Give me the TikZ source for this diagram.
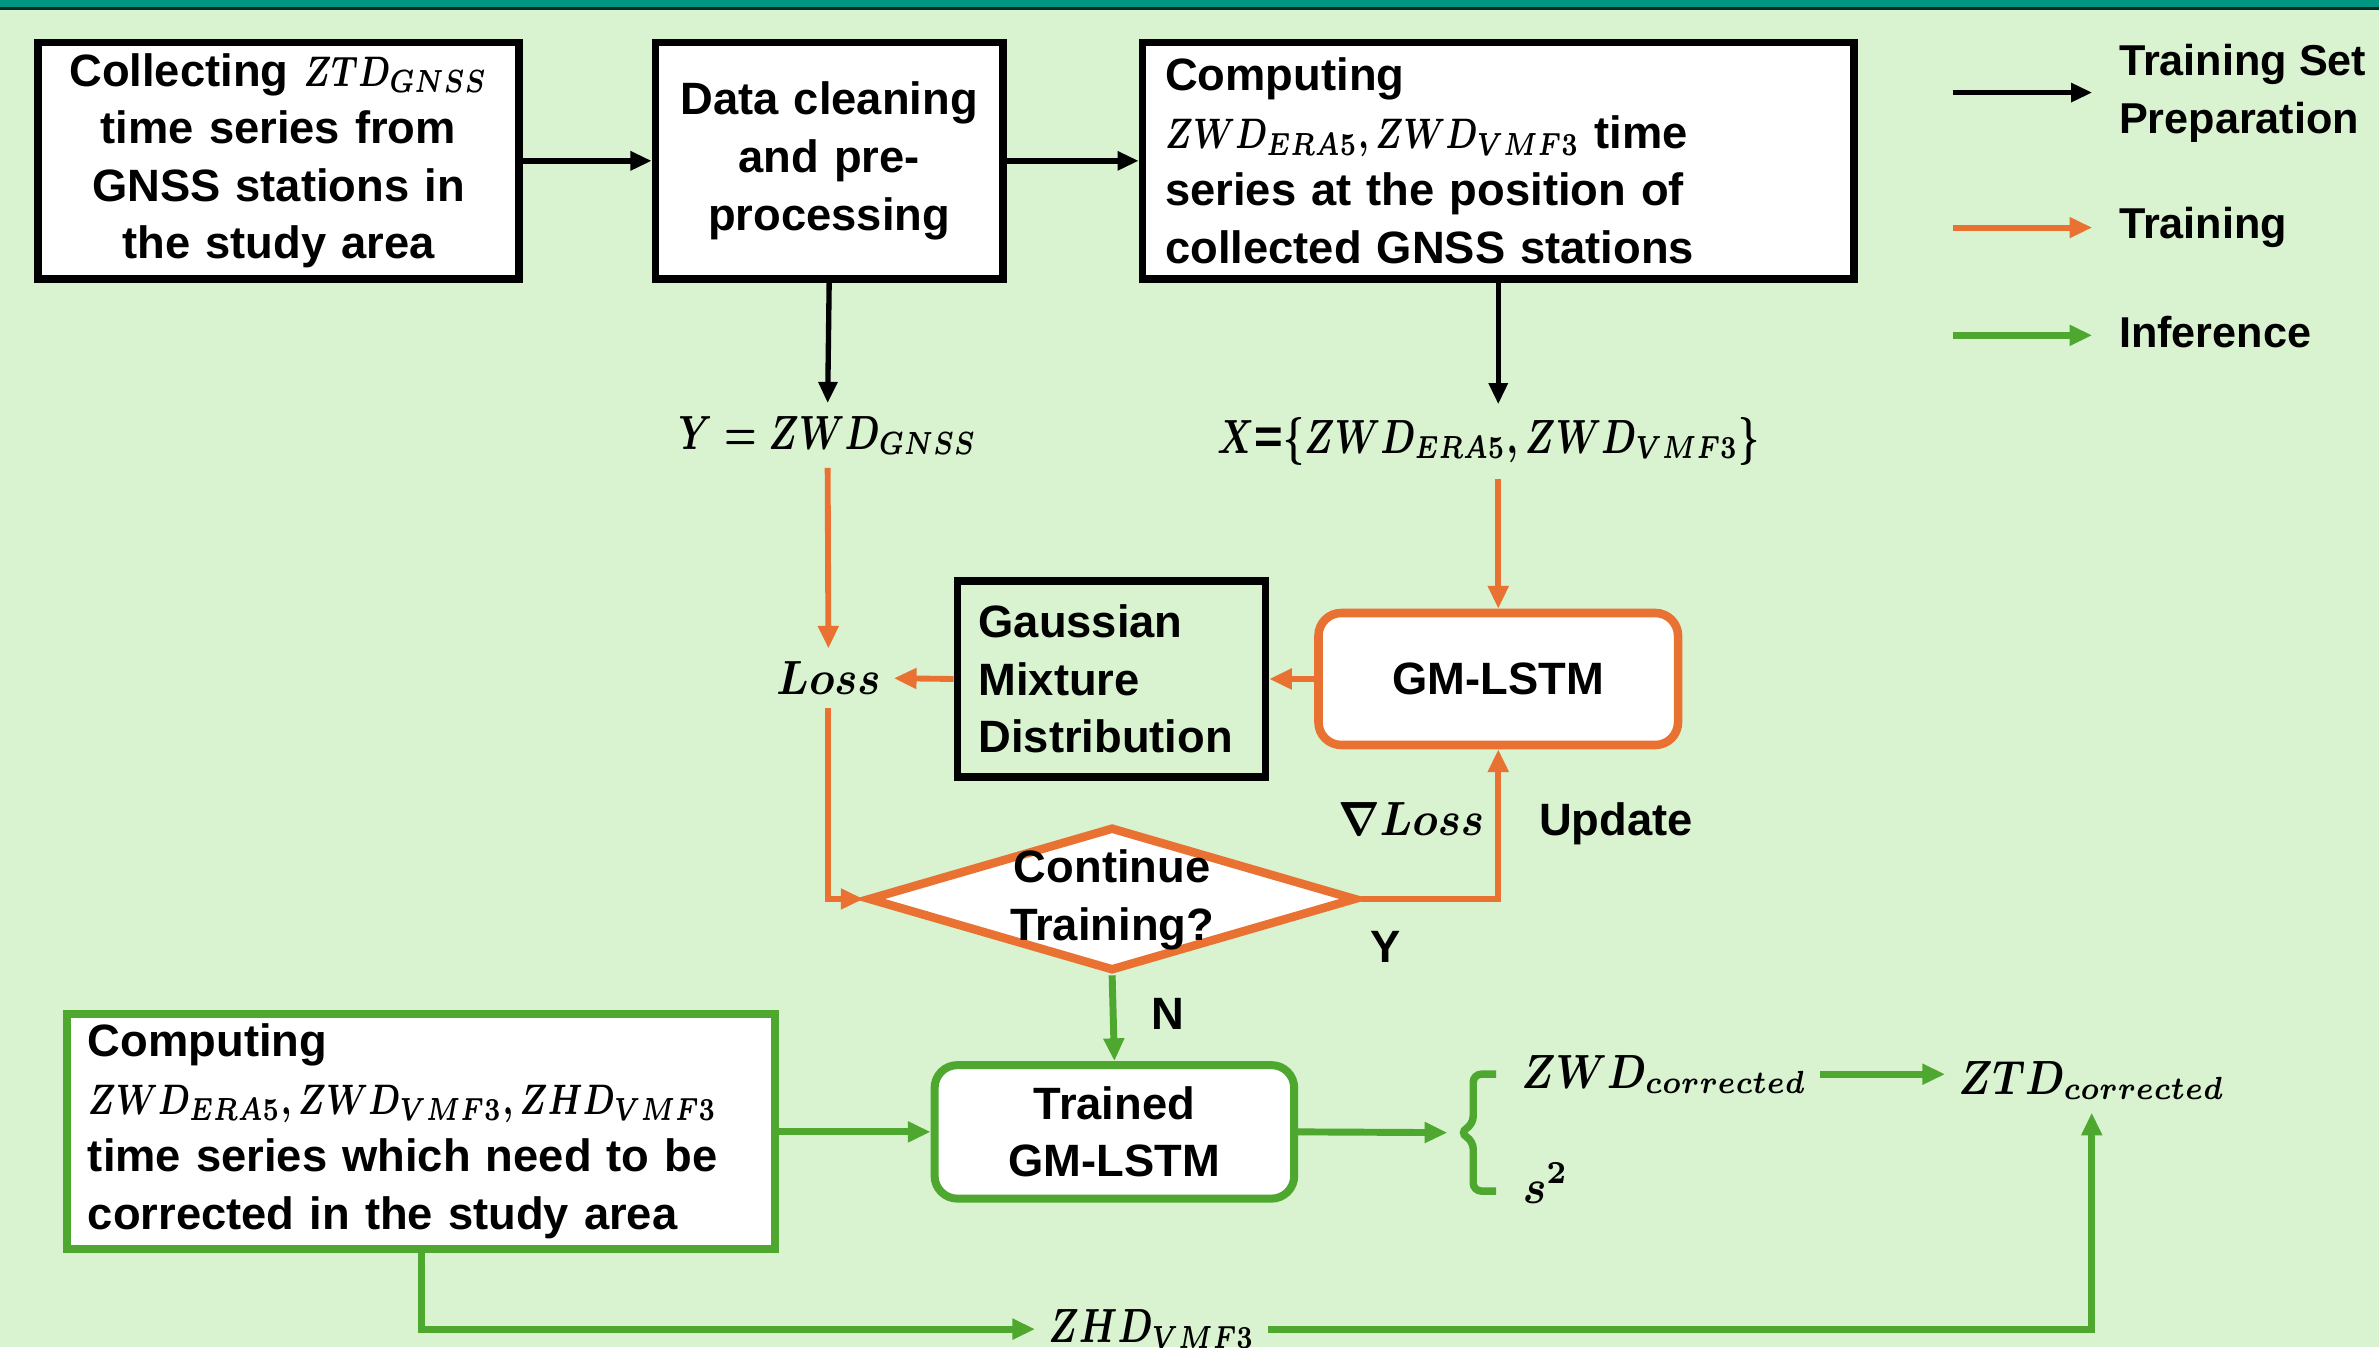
\documentclass[tikz,border=0pt]{standalone}
\usepackage{amsmath}
\usepackage{graphicx}
\usepackage{fontspec}
\setmainfont{Liberation Sans}
\usetikzlibrary{arrows.meta}
\usetikzlibrary{shapes.geometric}
\definecolor{bggreen}{RGB}{217,242,208}
\definecolor{topteal}{RGB}{0,150,130}
\definecolor{trainorange}{RGB}{233,113,50}
\definecolor{infergreen}{RGB}{78,167,46}
\newcommand{\boxfont}{\fontsize{8.5}{10.8}\selectfont\bfseries}
\newcommand{\labfont}{\fontsize{9.2}{11}\selectfont\bfseries}
\newcommand{\legfont}{\fontsize{8.1}{10.8}\selectfont\bfseries}
% narrow math for the delay quantities
\newcommand{\nmath}[2][0.74]{\scalebox{#1}[1]{$#2$}}
\tikzstyle{prepbox}=[draw=black, line width=1.4pt, fill=white, inner ysep=0pt, font=\boxfont]
\tikzstyle{trainbox}=[draw=trainorange, line width=1.6pt, fill=white, rounded corners=0.15cm, font=\boxfont]
\tikzstyle{inferbox}=[draw=infergreen, line width=1.5pt, fill=white, inner ysep=0pt, font=\boxfont]
\tikzstyle{mathlab}=[inner sep=0.08cm, font=\labfont]
\tikzstyle{prepline}=[draw=black, line width=1pt, -{Triangle[length=0.14cm, width=0.12cm]}]
\tikzstyle{trainline}=[draw=trainorange, line width=1.1pt, -{Triangle[length=0.15cm, width=0.13cm]}]
\tikzstyle{inferline}=[draw=infergreen, line width=1.3pt, -{Triangle[length=0.15cm, width=0.13cm]}]
\begin{document}
\boldmath
\begin{tikzpicture}
    \useasboundingbox (0,0) rectangle (15.68,-8.88);
    \fill[bggreen] (0,0) rectangle (15.68,-8.88);
    \fill[topteal] (0,0) rectangle (15.68,-0.05);
    \draw[black!70!topteal, line width=0.6pt] (0,-0.055) -- (15.68,-0.055);

    % training set preparation
    \node[prepbox, text width=2.97cm, inner xsep=0.1cm, minimum height=1.56cm, align=center] (gnss) at (1.835,-1.06)
        {Collecting \nmath{ZTD_{GNSS}}\\time series from\\GNSS stations in\\the study area};
    \node[prepbox, text width=2.09cm, inner xsep=0.1cm, minimum height=1.56cm, align=center] (clean) at (5.465,-1.06)
        {Data cleaning\\and pre-\\processing};
    \node[prepbox, text width=4.39cm, inner xsep=0.15cm, minimum height=1.56cm, align=left] (era) at (9.875,-1.06)
        {Computing\\\nmath{ZWD_{ERA5}, ZWD_{VMF3}} time\\series at the position of\\collected GNSS stations};
    \node[mathlab] (ylab) at (5.455,-2.87) {\nmath{Y = ZWD_{GNSS}}};
    \node[mathlab] (xlab) at (9.81,-2.91) {\nmath{X}=\nmath{\{ZWD_{ERA5}, ZWD_{VMF3}\}}};

    \draw[prepline] (gnss.east) -- (clean.west);
    \draw[prepline] (clean.east) -- (era.west);
    \draw[prepline] (clean.south) -- (ylab.north);
    \draw[prepline] (era.south) -- (era.south |- xlab.north);

    % training loop
    \node[trainbox, minimum width=2.37cm, minimum height=0.87cm] (gml) at (9.875,-4.475) {GM-LSTM};
    \node[prepbox, fill=none, text width=1.75cm, inner xsep=0.14cm, minimum height=1.29cm, align=left] (gmd) at (7.325,-4.475)
        {Gaussian\\Mixture\\Distribution};
    \node[mathlab] (loss) at (5.46,-4.47) {\nmath[0.88]{Loss}};
    \node[diamond, draw=trainorange, line width=1.6pt, fill=white, aspect=3.42, minimum width=3.22cm, minimum height=0.95cm, inner sep=0pt] (cont) at (7.33,-5.925) {};
    \node[font=\boxfont, align=center, inner sep=0pt] (conttext) at (7.33,-5.93) {Continue\\Training?};
    \node[mathlab] (grad) at (9.30,-5.40) {\nmath[0.88]{\nabla Loss}};
    \node[mathlab, font=\boxfont] (upd) at (10.65,-5.43) {Update};
    \node[mathlab, font=\boxfont] (yes) at (9.13,-6.24) {Y};
    \node[mathlab, font=\boxfont] (no) at (7.70,-6.68) {N};

    \draw[trainline] (ylab.south) -- (loss.north);
    \draw[trainline] (gml.north |- xlab.south) -- (gml.north);
    \draw[trainline] (gml.west) -- (gmd.east);
    \draw[trainline] (gmd.west) -- (loss.east);
    \draw[trainline] (loss.south) |- (cont.west);
    \draw[trainline] (cont.east) -| (gml.south);

    % inference
    \node[inferbox, text width=4.39cm, inner xsep=0.14cm, minimum height=1.55cm, align=left] (target) at (2.775,-7.455)
        {Computing\\\nmath{ZWD_{ERA5}, ZWD_{VMF3}, ZHD_{VMF3}}\\time series which need to be\\corrected in the study area};
    \node[trainbox, draw=infergreen, line width=1.5pt, minimum width=2.37cm, minimum height=0.88cm, align=center] (trained) at (7.345,-7.46)
        {Trained\\GM-LSTM};
    \node[mathlab, anchor=west] (zwdc) at (9.94,-7.08) {\nmath[0.83]{ZWD_{corrected}}};
    \node[mathlab, anchor=west] (s2) at (9.95,-7.80) {\nmath[0.9]{s^2}};
    \node[mathlab, anchor=west] (ztdc) at (12.82,-7.12) {\nmath[0.83]{ZTD_{corrected}}};
    \node[mathlab] (zhd) at (7.59,-8.76) {\nmath{ZHD_{VMF3}}};
    \coordinate (brtip) at (9.54,-7.465);

    % brace in front of the two outputs
    \draw[infergreen, line width=1.4pt, rounded corners=1.5pt]
        (9.86,-7.08) -- (9.71,-7.08) -- (9.71,-7.41) -- (9.62,-7.465) -- (9.71,-7.52) -- (9.71,-7.85) -- (9.86,-7.85);
    \draw[inferline] (cont.south) -- (trained.north);
    \draw[inferline] (target.east |- trained.west) -- (trained.west);
    \draw[inferline] (trained.east) -- (brtip);
    \draw[inferline] (zwdc.east) -- (zwdc.east -| ztdc.west);
    \draw[inferline] (target.south) |- (zhd.west);
    \draw[inferline] (zhd.east) -| (ztdc.south);

    % legend
    \coordinate (lp0) at (12.87,-0.61);  \coordinate (lp1) at (13.79,-0.61);
    \coordinate (lt0) at (12.87,-1.50);  \coordinate (lt1) at (13.79,-1.50);
    \coordinate (li0) at (12.87,-2.21);  \coordinate (li1) at (13.79,-2.21);
    \draw[prepline] (lp0) -- (lp1);
    \draw[trainline] (lt0) -- (lt1);
    \draw[inferline] (li0) -- (li1);
    \node[mathlab, anchor=west, align=left, font=\legfont] (legprep) at (13.88,-0.615) {Training Set\\Preparation};
    \node[mathlab, anchor=west, font=\legfont] (legtrain) at (13.88,-1.50) {Training};
    \node[mathlab, anchor=west, font=\legfont] (leginfer) at (13.88,-2.19) {Inference};
\end{tikzpicture}
\end{document}
